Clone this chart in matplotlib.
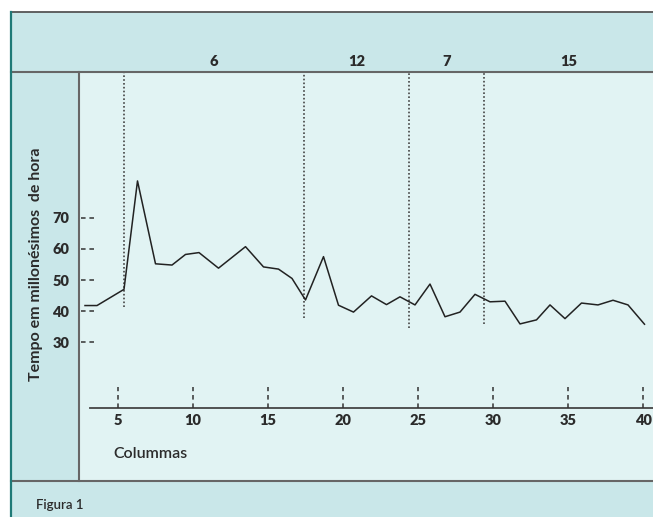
import matplotlib
matplotlib.use('Agg')
from matplotlib import pyplot as plt
from matplotlib import transforms

plt.rcParams['font.family'] = ['Lato', 'DejaVu Sans']

# data
columns = [2.8, 3.6, 5.4, 6.3, 7.5, 8.6, 9.5, 10.4, 11.7, 13.5, 14.7, 15.7,
           16.6, 17.5, 18.7, 19.7, 20.7, 21.9, 22.9, 23.8, 24.8, 25.8, 26.8,
           27.8, 28.8, 29.8, 30.8, 31.8, 32.9, 33.8, 34.8, 35.9, 37.0, 38.0,
           39.0, 40.1]
tempo = [41.8, 41.8, 47.0, 81.8, 55.2, 54.8, 58.2, 58.8, 53.8, 60.7, 54.2,
         53.5, 50.5, 43.6, 57.5, 41.9, 39.7, 44.9, 42.1, 44.6, 42.0, 48.7,
         38.2, 39.7, 45.4, 43.0, 43.2, 35.9, 37.2, 42.0, 37.6, 42.6, 42.0,
         43.5, 42.0, 35.8]

# segment boundaries (dotted lines) and their lower ends
seg_x = [5.4, 17.4, 24.4, 29.4]
seg_bottom = [41.3, 37.8, 34.6, 35.9]
seg_counts = ['6', '12', '7', '15']

x_ticks = [5, 10, 15, 20, 25, 30, 35, 40]
y_ticks = [30, 40, 50, 60, 70]

BAND = '#c9e7e9'
INNER = '#e1f3f3'
LINE = '#666666'
TEXT = '#2b2b2b'

W, H = 653, 517
top_px, bot_px, left_px = 72, 481, 79

fig = plt.figure(figsize=(W / 100, H / 100), dpi=100)
fig.patch.set_facecolor('white')

# outer panel (bands) drawn on a background axes in pixel units
bg = fig.add_axes([0, 0, 1, 1], zorder=-5)
bg.set_xlim(0, W)
bg.set_ylim(H, 0)
bg.axis('off')
bg.add_patch(plt.Rectangle((11, 12), W, H, facecolor=BAND, edgecolor='none'))

# plot area maps x_px = 43 + 15*x, y_px = 342.3 - 3.115*(v - 30)
ax = fig.add_axes([left_px / W, (H - bot_px) / H, (W - left_px) / W, (bot_px - top_px) / H])
ax.set_facecolor(INNER)
ax.set_xlim((left_px - 43) / 15, (W - 43) / 15)
ax.set_ylim(30 + (342.3 - bot_px) / 3.115, 30 + (342.3 - top_px) / 3.115)
for side in ['right', 'top', 'bottom']:
    ax.spines[side].set_visible(False)
ax.spines['left'].set_color(LINE)
ax.spines['left'].set_linewidth(1.5)

# frame lines on top of everything
ov = fig.add_axes([0, 0, 1, 1], zorder=5)
ov.set_xlim(0, W)
ov.set_ylim(H, 0)
ov.axis('off')
ov.patch.set_alpha(0)
ov.plot([11, W], [12, 12], color='#555555', lw=1.3)
ov.plot([11, W], [top_px, top_px], color=LINE, lw=1.5)
ov.plot([11, W], [bot_px, bot_px], color=LINE, lw=1.5)
ov.plot([11, 11], [12, H], color='#1f7a77', lw=1.6)

x_axis_v = 30 + (342.3 - 408) / 3.115

# x axis line
ax.plot([(90 - 43) / 15, (W - 43) / 15], [x_axis_v, x_axis_v], color='#444444', lw=1.3,
        clip_on=False)

# ticks
ax.set_xticks(x_ticks)
ax.set_xticklabels([str(t) for t in x_ticks])
ax.tick_params(axis='x', length=0, pad=0)
for lab in ax.get_xticklabels():
    lab.set_transform(lab.get_transform() + transforms.ScaledTranslation(0, -(408 - bot_px + 6) / 100, fig.dpi_scale_trans))
    lab.set_fontweight('heavy')
    lab.set_fontsize(10.5)
    lab.set_color(TEXT)
ax.vlines(x_ticks, x_axis_v, x_axis_v + 21 / 3.115, color='#333333', lw=1.1,
          linestyles=(0, (3, 2.5)))

ax.set_yticks(y_ticks)
ax.set_yticklabels([str(t) for t in y_ticks])
ax.tick_params(axis='y', length=0, pad=7)
for lab in ax.get_yticklabels():
    lab.set_fontweight('heavy')
    lab.set_fontsize(10.5)
    lab.set_color(TEXT)
ax.hlines(y_ticks, (81 - 43) / 15, (96 - 43) / 15, color='#333333', lw=1.1,
          linestyles=(0, (3, 2.5)))

# dotted segment lines
for sx, sb in zip(seg_x, seg_bottom):
    ax.plot([sx, sx], [sb, ax.get_ylim()[1]], color='#444444', lw=1.2,
            linestyle=(0, (1, 1.3)))

# counts in the top band
bounds = seg_x + [ax.get_xlim()[1]]
trans = transforms.blended_transform_factory(ax.transData, fig.transFigure)
for i, c in enumerate(seg_counts):
    mid = (bounds[i] + bounds[i + 1]) / 2
    ax.text(mid, (H - 61) / H, c, transform=trans, ha='center', va='center',
            fontsize=10.5, fontweight='heavy', color=TEXT, clip_on=False)

ax.plot(columns, tempo, color='#222222', lw=1.1)

fig.text(36 / W, (H - 264) / H, 'Tempo em millonésimos  de hora', rotation=90,
         ha='center', va='center', fontsize=11.5, fontweight='bold', color=TEXT)
fig.text(113 / W, (H - 454) / H, 'Colummas', ha='left', va='center',
         fontsize=11.5, fontweight='semibold', color=TEXT)
fig.text(36 / W, (H - 505) / H, 'Figura 1', ha='left', va='center',
         fontsize=9.5, fontweight='semibold', color=TEXT)

fig.savefig('out.png', dpi=100)
